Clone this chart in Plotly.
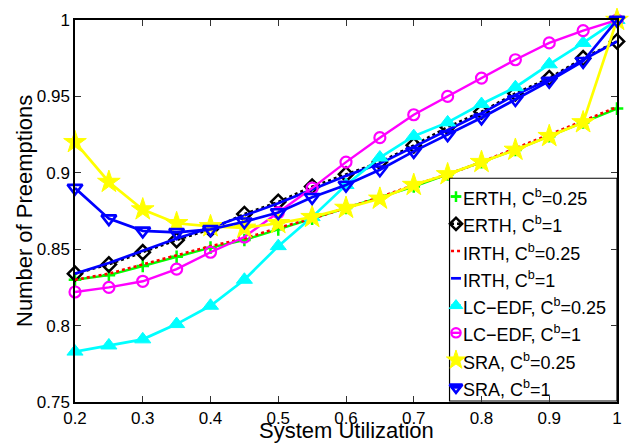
import plotly.graph_objects as go

# ---------------- data ----------------
utilization = [0.2, 0.25, 0.3, 0.35, 0.4, 0.45, 0.5, 0.55, 0.6, 0.65, 0.7, 0.75, 0.8, 0.85, 0.9, 0.95, 1.0]

erth_025 = [0.830, 0.833, 0.839, 0.845, 0.851, 0.856, 0.863, 0.870, 0.877, 0.884, 0.891, 0.899, 0.907, 0.915, 0.924, 0.933, 0.942]
erth_1 = [0.834, 0.840, 0.848, 0.856, 0.863, 0.873, 0.881, 0.891, 0.899, 0.907, 0.918, 0.930, 0.940, 0.952, 0.962, 0.975, 0.986]
irth_025 = [0.830, 0.834, 0.840, 0.846, 0.852, 0.857, 0.864, 0.870, 0.877, 0.884, 0.892, 0.899, 0.907, 0.916, 0.925, 0.934, 0.943]
irth_1 = [0.834, 0.841, 0.849, 0.857, 0.864, 0.872, 0.880, 0.889, 0.898, 0.906, 0.917, 0.928, 0.939, 0.951, 0.961, 0.974, 0.986]
lcedf_025 = [0.783, 0.787, 0.791, 0.801, 0.813, 0.830, 0.852, 0.871, 0.892, 0.910, 0.924, 0.933, 0.945, 0.956, 0.971, 0.985, 1.0]
lcedf_1 = [0.822, 0.825, 0.829, 0.837, 0.848, 0.858, 0.874, 0.890, 0.907, 0.923, 0.938, 0.950, 0.962, 0.974, 0.985, 0.993, 1.0]
sra_025 = [0.920, 0.894, 0.876, 0.867, 0.865, 0.864, 0.867, 0.871, 0.877, 0.883, 0.892, 0.899, 0.907, 0.915, 0.924, 0.933, 1.0]
sra_1 = [0.890, 0.870, 0.862, 0.861, 0.863, 0.868, 0.874, 0.884, 0.892, 0.902, 0.914, 0.925, 0.936, 0.948, 0.960, 0.973, 1.0]

series_names = ["ERTH, C<sup>b</sup>=0.25", "ERTH, C<sup>b</sup>=1",
                "IRTH, C<sup>b</sup>=0.25", "IRTH, C<sup>b</sup>=1",
                "LC\u2212EDF, C<sup>b</sup>=0.25", "LC\u2212EDF, C<sup>b</sup>=1",
                "SRA, C<sup>b</sup>=0.25", "SRA, C<sup>b</sup>=1"]
series_values = [erth_025, erth_1, irth_025, irth_1, lcedf_025, lcedf_1, sra_025, sra_1]

x_title = "System Utilization"
y_title = "Number of Preemptions"

# ---------------- styles ----------------
styles = [
    dict(color="#00ff00", dash="solid", lw=2.4, symbol="cross-thin-open", size=9, mlw=2.5, fill=None),
    dict(color="#000000", dash="dot", lw=2.4, symbol="diamond-open", size=11, mlw=2.5, fill=None),
    dict(color="#ff0000", dash="dot", lw=2.6, symbol=None, size=0, mlw=0, fill=None),
    dict(color="#0000ff", dash="solid", lw=2.7, symbol=None, size=0, mlw=0, fill=None),
    dict(color="#00ffff", dash="solid", lw=2.7, symbol="triangle-up", size=14, mlw=1, fill="#00ffff"),
    dict(color="#ff00ff", dash="solid", lw=2.4, symbol="circle-open", size=11, mlw=2.2, fill=None),
    dict(color="#ffff00", dash="solid", lw=2.7, symbol="star", size=17, mlw=1, fill="#ffff00"),
    dict(color="#0000ff", dash="solid", lw=2.7, symbol="triangle-down-open", size=13, mlw=2.6, fill=None),
]

FONT = "Liberation Sans, Arial, Helvetica, sans-serif"

fig = go.Figure()

for name, vals, st in zip(series_names, series_values, styles):
    mode = "lines+markers" if st["symbol"] else "lines"
    marker = None
    if st["symbol"]:
        marker = dict(symbol=st["symbol"], size=st["size"],
                      color=st["fill"] if st["fill"] else st["color"],
                      line=dict(color=st["color"], width=st["mlw"]))
    fig.add_trace(go.Scatter(x=utilization, y=vals, mode=mode, name=name,
                             line=dict(color=st["color"], width=st["lw"], dash=st["dash"]),
                             marker=marker, cliponaxis=False, showlegend=False))

# ---------------- custom legend on a pixel-coordinate overlay ----------------
L, R, T, B = 75, 622, 11, 402
box_left, box_top, box_bottom = 453, 173, 401
row0, row_step = 191.7, 27.9
sym_x = 459.5

fig.add_trace(go.Scatter(x=[box_left, R, R, box_left, box_left],
                         y=[box_top, box_top, box_bottom, box_bottom, box_top],
                         mode="lines", fill="toself", fillcolor="white",
                         line=dict(color="black", width=1.2),
                         xaxis="x2", yaxis="y2", showlegend=False, hoverinfo="skip"))

for i, (name, st) in enumerate(zip(series_names, styles)):
    yy = row0 + i * row_step
    fig.add_trace(go.Scatter(x=[sym_x - 5, sym_x + 5], y=[yy, yy], mode="lines",
                             line=dict(color=st["color"], width=st["lw"], dash=st["dash"]),
                             xaxis="x2", yaxis="y2", showlegend=False, hoverinfo="skip"))
    if st["symbol"]:
        fig.add_trace(go.Scatter(x=[sym_x], y=[yy], mode="markers",
                                 marker=dict(symbol=st["symbol"], size=st["size"] * 0.85,
                                             color=st["fill"] if st["fill"] else st["color"],
                                             line=dict(color=st["color"], width=st["mlw"])),
                                 xaxis="x2", yaxis="y2", showlegend=False, hoverinfo="skip"))
    fig.add_annotation(x=465, y=yy + 1, xref="x2", yref="y2", text=name, showarrow=False,
                       xanchor="left", yanchor="middle",
                       font=dict(family=FONT, size=18, color="black"))

# axis titles
fig.add_annotation(x=0.5, y=-(431 - B) / (B - T), xref="paper", yref="paper", text=x_title,
                   showarrow=False, xanchor="center", yanchor="middle",
                   font=dict(family=FONT, size=22, color="black"))
fig.add_annotation(x=0, y=0.5, xref="paper", yref="paper", text=y_title, showarrow=False,
                   textangle=-90, xanchor="center", yanchor="middle", xshift=-51,
                   font=dict(family=FONT, size=22, color="black"))

axis_common = dict(showline=True, linecolor="black", linewidth=1.5, mirror="ticks",
                   ticks="inside", ticklen=6, tickwidth=1, tickcolor="#333333",
                   showgrid=False, zeroline=False,
                   tickfont=dict(family=FONT, size=17, color="black"))

fig.update_layout(
    width=633, height=444,
    margin=dict(l=L, r=633 - R, t=T, b=444 - B),
    paper_bgcolor="white", plot_bgcolor="white",
    showlegend=False,
    xaxis=dict(range=[0.2, 1.0], tickmode="array",
               tickvals=[0.2, 0.3, 0.4, 0.5, 0.6, 0.7, 0.8, 0.9, 1.0],
               ticktext=["0.2", "0.3", "0.4", "0.5", "0.6", "0.7", "0.8", "0.9", "1"],
               **axis_common),
    yaxis=dict(range=[0.75, 1.0], tickmode="array",
               tickvals=[0.75, 0.8, 0.85, 0.9, 0.95, 1.0],
               ticktext=["0.75", "0.8", "0.85", "0.9", "0.95", "1"],
               **axis_common),
    xaxis2=dict(overlaying="x", range=[L, R], visible=False, fixedrange=True),
    yaxis2=dict(overlaying="y", range=[B, T], visible=False, fixedrange=True),
)

fig.write_html("out.html")
